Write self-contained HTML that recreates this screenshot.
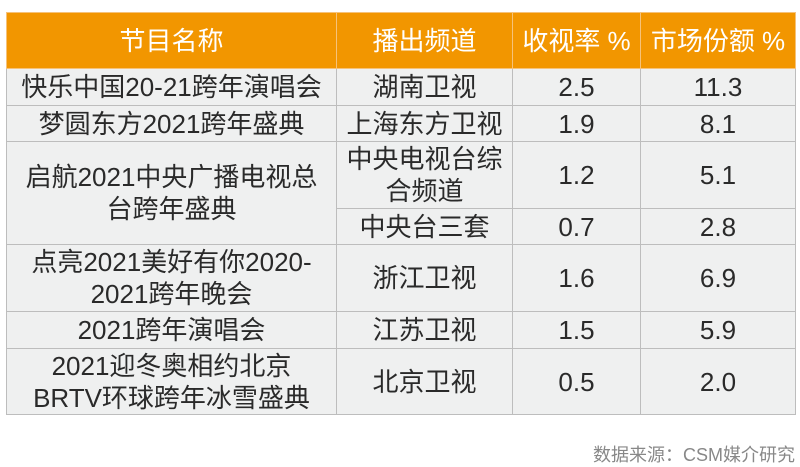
<!DOCTYPE html>
<html><head><meta charset="utf-8"><style>
body{margin:0;width:800px;height:467px;background:#fff;position:relative;overflow:hidden;font-family:"Liberation Sans","Noto Sans CJK SC",sans-serif;}
table{position:absolute;left:6px;top:12px;border-collapse:collapse;table-layout:fixed;}
td,th{border:1.5px solid #bdbdbd;text-align:center;vertical-align:middle;padding:0;font-size:26px;color:#2a2a2a;font-weight:normal;line-height:32px;background:#eff0f0;white-space:nowrap;}
th{background:#f29600;color:#fff;height:55px;border-color:#f6c27a;}
.foot{position:absolute;right:5px;top:441px;font-size:18px;color:#888;}
</style></head><body>
<table>
<colgroup><col style="width:330px"><col style="width:176px"><col style="width:128px"><col style="width:155px"></colgroup>
<tr><th>节目名称</th><th>播出频道</th><th>收视率 %</th><th>市场份额 %</th></tr>
<tr style="height:37px"><td>快乐中国20-21跨年演唱会</td><td>湖南卫视</td><td>2.5</td><td>11.3</td></tr>
<tr style="height:36px"><td>梦圆东方2021跨年盛典</td><td>上海东方卫视</td><td>1.9</td><td>8.1</td></tr>
<tr style="height:67px"><td rowspan="2">启航2021中央广播电视总<br>台跨年盛典</td><td>中央电视台综<br>合频道</td><td>1.2</td><td>5.1</td></tr>
<tr style="height:36px"><td>中央台三套</td><td>0.7</td><td>2.8</td></tr>
<tr style="height:67px"><td>点亮2021美好有你2020-<br>2021跨年晚会</td><td>浙江卫视</td><td>1.6</td><td>6.9</td></tr>
<tr style="height:37px"><td>2021跨年演唱会</td><td>江苏卫视</td><td>1.5</td><td>5.9</td></tr>
<tr style="height:66px"><td>2021迎冬奥相约北京<br>BRTV环球跨年冰雪盛典</td><td>北京卫视</td><td>0.5</td><td>2.0</td></tr>
</table>
<div class="foot">数据来源：CSM媒介研究</div>
</body></html>
